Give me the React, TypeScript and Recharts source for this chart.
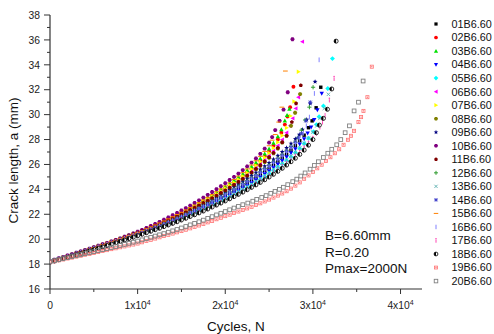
import React from 'react';
import { ScatterChart, Scatter, XAxis, YAxis } from 'recharts';

// ---------- data: cycle grid (N) and crack length a (mm) per specimen ----------
const GRID = [0,500,1000,1500,2000,2500,3000,3500,4000,4500,
  5000,5500,6000,6500,7000,7500,8000,8500,9000,9500,
  10000,10500,11000,11500,12000,12500,13000,13500,14000,14500,
  15000,15500,16000,16500,17000,17500,18000,18500,19000,19500,
  20000,20500,21000,21500,22000,22500,23000,23500,24000,24500,
  25000,25500,26000,26500,27000,27500,28000,28500,29000,29500,
  30000,30500,31000,31500,32000,32500,33000,33500,34000,34500];

const A01 = [18.2,18.3,18.41,18.51,18.62,18.72,18.83,18.93,19.04,19.14,
  19.25,19.36,19.47,19.58,19.7,19.81,19.93,20.04,20.16,20.28,
  20.4,20.52,20.65,20.77,20.9,21.03,21.17,21.31,21.45,21.6,
  21.75,21.9,22.06,22.22,22.38,22.55,22.72,22.89,23.07,23.25,
  23.44,23.63,23.83,24.03,24.24,24.46,24.68,24.91,25.15,25.4,
  25.65,25.92,26.2,26.5,26.8,27.14,27.5,27.91,28.35];
const T01 = [[29500,28.95],[29910,29.5],[30370,30.55],[30900,32.2]];

const A02 = [18.22,18.33,18.44,18.55,18.66,18.77,18.88,18.99,19.1,19.21,
  19.32,19.43,19.55,19.66,19.78,19.9,20.02,20.14,20.27,20.39,
  20.52,20.66,20.8,20.95,21.1,21.26,21.42,21.58,21.75,21.92,
  22.1,22.28,22.46,22.65,22.84,23.04,23.24,23.45,23.66,23.88,
  24.1,24.34,24.58,24.83,25.1,25.37,25.66,25.97,26.3,26.66,
  27.05,27.5,28.0];
const T02 = [[26400,28.55],[26800,29.2],[27100,29.85],[27400,30.6],[27780,32.24]];

const A03 = [18.18,18.29,18.41,18.52,18.64,18.75,18.87,18.98,19.1,19.21,
  19.33,19.45,19.57,19.69,19.81,19.93,20.06,20.19,20.32,20.45,
  20.58,20.72,20.86,21.01,21.16,21.32,21.48,21.65,21.82,22.0,
  22.18,22.36,22.55,22.74,22.94,23.14,23.35,23.56,23.78,24.0,
  24.23,24.47,24.72,24.98,25.25,25.53,25.83,26.15,26.48,26.85,
  27.25,27.72,28.25];
const T03 = [[26400,28.8],[26800,29.5],[27050,29.95],[27320,30.45]];

const A04 = [18.2,18.3,18.4,18.5,18.6,18.7,18.81,18.91,19.02,19.12,
  19.23,19.34,19.45,19.56,19.67,19.78,19.9,20.01,20.13,20.25,
  20.37,20.49,20.61,20.73,20.86,20.99,21.12,21.26,21.4,21.54,
  21.69,21.84,21.99,22.14,22.3,22.46,22.63,22.8,22.97,23.15,
  23.33,23.52,23.71,23.91,24.11,24.32,24.54,24.77,25.0,25.25,
  25.5,25.76,26.03,26.31,26.6,26.92,27.25,27.63,28.05];
const T04 = [[29400,28.5],[29800,29.0],[30150,29.6],[30510,30.37],[31010,31.7]];

const A05 = [18.15,18.25,18.35,18.45,18.56,18.66,18.77,18.87,18.98,19.09,
  19.2,19.31,19.42,19.53,19.64,19.75,19.87,19.98,20.1,20.21,
  20.33,20.45,20.57,20.69,20.82,20.95,21.08,21.21,21.35,21.49,
  21.63,21.77,21.92,22.07,22.22,22.38,22.54,22.7,22.87,23.04,
  23.21,23.39,23.57,23.76,23.95,24.15,24.36,24.58,24.8,25.03,
  25.27,25.52,25.77,26.04,26.32,26.62,26.94,27.29,27.68];
const T05 = [[29500,28.1],[30060,28.63],[30400,29.2],[30710,29.83],[31200,30.7],[31700,32.1],[32230,34.5]];

const A06 = [18.2,18.31,18.42,18.53,18.64,18.75,18.86,18.97,19.08,19.19,
  19.31,19.42,19.54,19.65,19.77,19.89,20.01,20.13,20.26,20.38,
  20.51,20.64,20.78,20.92,21.07,21.22,21.38,21.54,21.7,21.87,
  22.04,22.21,22.39,22.57,22.76,22.95,23.15,23.35,23.56,23.77,
  23.98,24.2,24.43,24.67,24.92,25.18,25.45,25.73,26.03,26.35,
  26.7,27.08,27.5,27.99,28.55];
const T06 = [[27400,29.1],[27700,29.7],[28050,30.5],[28350,31.4],[28800,35.86]];

const A07 = [18.2,18.31,18.42,18.53,18.64,18.75,18.86,18.97,19.09,19.2,
  19.32,19.43,19.55,19.67,19.79,19.91,20.03,20.15,20.28,20.41,
  20.54,20.67,20.81,20.95,21.1,21.25,21.41,21.57,21.74,21.91,
  22.08,22.26,22.44,22.63,22.82,23.02,23.22,23.43,23.64,23.86,
  24.08,24.31,24.55,24.8,25.06,25.33,25.61,25.91,26.22,26.56,
  26.92,27.33,27.78,28.33,28.95];
const T07 = [[27450,29.9],[27850,31.05],[28350,33.45]];

const A08 = [18.2,18.31,18.42,18.52,18.63,18.74,18.85,18.96,19.07,19.18,
  19.29,19.4,19.52,19.63,19.75,19.87,19.99,20.11,20.23,20.35,
  20.48,20.61,20.75,20.89,21.03,21.18,21.33,21.48,21.64,21.8,
  21.97,22.14,22.32,22.5,22.68,22.87,23.06,23.26,23.46,23.67,
  23.88,24.1,24.32,24.56,24.8,25.06,25.32,25.6,25.89,26.2,
  26.53,26.89,27.28,27.76,28.3];
const T08 = [[27500,29.1],[27970,30.15],[28540,31.65]];

const A09 = [18.2,18.31,18.42,18.53,18.64,18.75,18.86,18.97,19.08,19.19,
  19.3,19.41,19.52,19.63,19.75,19.86,19.98,20.09,20.2,20.32,
  20.45,20.58,20.71,20.84,20.98,21.12,21.27,21.42,21.57,21.73,
  21.89,22.05,22.22,22.39,22.57,22.75,22.94,23.13,23.33,23.53,
  23.74,23.95,24.17,24.39,24.62,24.86,25.1,25.35,25.6,25.86,
  26.13,26.41,26.7,27.01,27.33,27.68,28.05];
const T09 = [[28450,28.4],[28800,28.8],[29300,29.6],[29700,30.9],[30250,32.64]];

const A10 = [18.25,18.36,18.47,18.58,18.69,18.8,18.91,19.02,19.13,19.24,
  19.36,19.47,19.59,19.71,19.83,19.95,20.07,20.2,20.33,20.46,
  20.6,20.75,20.9,21.06,21.22,21.39,21.56,21.74,21.92,22.11,
  22.3,22.5,22.7,22.91,23.12,23.34,23.56,23.79,24.02,24.26,
  24.5,24.75,25.0,25.27,25.55,25.84,26.15,26.48,26.85,27.27,
  27.75];
const T10 = [[25350,28.2],[25700,28.76],[26200,29.5],[26650,30.4],[27130,31.8],[27670,36.05]];

const A11 = [18.2,18.31,18.42,18.53,18.64,18.75,18.86,18.97,19.08,19.19,
  19.31,19.42,19.54,19.65,19.77,19.89,20.01,20.13,20.26,20.38,
  20.51,20.64,20.78,20.92,21.06,21.21,21.36,21.52,21.68,21.84,
  22.01,22.18,22.36,22.54,22.72,22.91,23.1,23.3,23.5,23.71,
  23.92,24.14,24.37,24.61,24.85,25.11,25.37,25.65,25.94,26.25,
  26.58,26.93,27.32,27.78,28.3];
const T11 = [[27600,29.4],[28080,30.9],[28620,32.35]];

const A12 = [18.2,18.3,18.41,18.52,18.63,18.74,18.85,18.96,19.07,19.18,
  19.29,19.4,19.51,19.62,19.74,19.85,19.97,20.08,20.2,20.32,
  20.44,20.56,20.69,20.82,20.95,21.09,21.23,21.37,21.52,21.67,
  21.83,21.99,22.15,22.32,22.49,22.67,22.85,23.03,23.22,23.41,
  23.61,23.81,24.02,24.24,24.46,24.69,24.92,25.16,25.41,25.67,
  25.93,26.2,26.49,26.79,27.1,27.44,27.8];
const T12 = [[28300,28.15],[28700,28.75],[29110,29.57],[29600,30.6],[30020,32.2]];

const A13 = [18.18,18.28,18.38,18.48,18.59,18.69,18.8,18.9,19.01,19.11,
  19.22,19.33,19.44,19.55,19.66,19.77,19.89,20.0,20.12,20.23,
  20.35,20.47,20.59,20.71,20.84,20.97,21.1,21.23,21.37,21.51,
  21.65,21.79,21.94,22.09,22.25,22.41,22.57,22.73,22.9,23.07,
  23.25,23.43,23.61,23.8,24.0,24.2,24.41,24.63,24.85,25.08,
  25.32,25.56,25.82,26.09,26.37,26.67,26.98,27.33,27.7,28.12,
  28.6];
const T13 = [[30450,29.1],[30800,29.7],[31300,30.5],[31770,31.63]];

const A14 = [18.2,18.3,18.41,18.51,18.62,18.73,18.84,18.95,19.06,19.17,
  19.28,19.39,19.5,19.61,19.73,19.84,19.96,20.07,20.19,20.31,
  20.43,20.55,20.68,20.81,20.94,21.07,21.21,21.35,21.5,21.65,
  21.8,21.96,22.12,22.28,22.45,22.62,22.8,22.98,23.17,23.36,
  23.56,23.76,23.97,24.18,24.4,24.63,24.86,25.1,25.35,25.61,
  25.87,26.15,26.43,26.73,27.05,27.4,27.78];
const T14 = [[28350,28.15],[28700,28.5],[29200,29.5],[29700,31.0]];

const A15 = [18.22,18.33,18.44,18.55,18.66,18.77,18.88,18.99,19.1,19.21,
  19.33,19.44,19.56,19.68,19.8,19.92,20.04,20.16,20.29,20.42,
  20.55,20.69,20.84,20.99,21.14,21.3,21.46,21.63,21.8,21.98,
  22.16,22.35,22.54,22.74,22.94,23.15,23.36,23.58,23.81,24.04,
  24.28,24.53,24.79,25.06,25.34,25.64,25.95,26.29,26.65,27.05,
  27.5];
const T15 = [[25350,27.95],[25700,28.4],[26100,29.4],[26450,30.6],[26860,33.5]];

const A16 = [18.2,18.3,18.41,18.51,18.62,18.72,18.83,18.94,19.05,19.16,
  19.27,19.38,19.49,19.6,19.71,19.82,19.94,20.05,20.17,20.29,
  20.41,20.53,20.66,20.79,20.92,21.05,21.19,21.33,21.47,21.62,
  21.77,21.92,22.08,22.24,22.41,22.58,22.76,22.94,23.12,23.31,
  23.5,23.7,23.9,24.11,24.32,24.54,24.77,25.01,25.25,25.5,
  25.76,26.03,26.31,26.61,26.92,27.26,27.62];
const T16 = [[28450,28.0],[28900,28.5],[29250,29.1],[29600,29.8],[30170,31.7],[30710,34.4]];

const A17 = [18.15,18.25,18.35,18.45,18.55,18.65,18.76,18.86,18.97,19.07,
  19.18,19.29,19.4,19.51,19.62,19.73,19.84,19.95,20.07,20.18,
  20.3,20.42,20.54,20.66,20.78,20.9,21.03,21.16,21.29,21.42,
  21.56,21.7,21.84,21.99,22.14,22.29,22.45,22.61,22.77,22.94,
  23.11,23.28,23.46,23.64,23.83,24.02,24.22,24.43,24.64,24.86,
  25.08,25.32,25.56,25.82,26.08,26.37,26.66,26.98,27.32,27.7,
  28.1];
const T17 = [[30400,28.5],[30800,29.0],[31100,29.4],[31390,29.9],[31880,31.17],[32420,32.9]];

const A18 = [18.15,18.25,18.35,18.45,18.55,18.65,18.75,18.85,18.96,19.06,
  19.17,19.27,19.38,19.49,19.6,19.71,19.82,19.93,20.05,20.16,
  20.28,20.4,20.52,20.64,20.76,20.88,21.01,21.14,21.27,21.4,
  21.54,21.68,21.82,21.96,22.11,22.26,22.42,22.58,22.74,22.9,
  23.07,23.24,23.42,23.6,23.78,23.97,24.16,24.36,24.56,24.77,
  24.99,25.21,25.45,25.69,25.95,26.22,26.5,26.81,27.15,27.55,
  28.0];
const T18 = [[30400,28.55],[30740,29.16],[31200,29.7],[31660,30.43],[32150,32.06],[32650,35.9]];

const A19 = [18.15,18.22,18.3,18.37,18.45,18.52,18.6,18.67,18.75,18.82,
  18.9,18.97,19.05,19.12,19.2,19.27,19.35,19.42,19.5,19.57,
  19.65,19.75,19.85,19.95,20.05,20.15,20.25,20.35,20.45,20.55,
  20.65,20.76,20.87,20.98,21.1,21.22,21.35,21.47,21.6,21.72,
  21.85,21.97,22.1,22.22,22.35,22.47,22.6,22.74,22.88,23.03,
  23.18,23.34,23.5,23.67,23.85,24.06,24.3,24.56,24.85,25.12,
  25.4,25.69,25.98,26.28,26.58,26.9,27.22,27.58,27.98];
const T19 = [[34350,28.3],[34700,28.7],[35200,29.4],[35500,29.8],[35770,30.3],[36220,31.4],[36720,33.85]];

const A20 = [18.2,18.28,18.36,18.44,18.52,18.6,18.68,18.76,18.84,18.92,
  19.0,19.08,19.16,19.24,19.33,19.41,19.5,19.58,19.67,19.76,
  19.85,19.95,20.05,20.15,20.25,20.35,20.45,20.56,20.67,20.78,
  20.9,21.02,21.15,21.27,21.4,21.53,21.67,21.81,21.95,22.08,
  22.22,22.36,22.5,22.63,22.77];
const T20 = [[22570,22.9],[23140,23.05],[23590,23.2],[24160,23.35],[24660,23.5],[25190,23.68],[25680,23.84],
  [26180,24.0],[26630,24.17],[27130,24.38],[27700,24.62],[28160,24.82],[28620,25.07],[29110,25.32],
  [29680,25.62],[30170,25.92],[30630,26.22],[31200,26.56],[31700,26.9],[32150,27.22],[32720,27.58],
  [33180,28.0],[33680,28.55],[34170,29.1],[34700,30.3],[35200,31.0],[35730,32.7]];

const SERIES_NAMES = ['01B6.60','02B6.60','03B6.60','04B6.60','05B6.60','06B6.60','07B6.60','08B6.60','09B6.60','10B6.60','11B6.60','12B6.60','13B6.60','14B6.60','15B6.60','16B6.60','17B6.60','18B6.60','19B6.60','20B6.60'];
const SERIES_VALUES = [A01,A02,A03,A04,A05,A06,A07,A08,A09,A10,A11,A12,A13,A14,A15,A16,A17,A18,A19,A20];
const SERIES_TAILS = [T01,T02,T03,T04,T05,T06,T07,T08,T09,T10,T11,T12,T13,T14,T15,T16,T17,T18,T19,T20];
const SERIES_SYMBOLS = ['square','circle','up','down','diamond','left','right','hex','star','hex','pent','plus','cross','aster','dash','bar','excl','half','pinksq','open'];
const SERIES_COLORS = ['#000000','#FF0000','#00E000','#0000FF','#00FFFF','#FF00FF','#FFFF00','#808000','#000080','#800080','#800000','#2E9B2E','#5AAFAF','#3A3AC8','#FF8000','#8080FF','#FF44B4','#000000','#FF7070','#808080'];

const X_TICKS = [0,5000,10000,15000,20000,25000,30000,35000,40000];
const Y_TICKS = [16,17,18,19,20,21,22,23,24,25,26,27,28,29,30,31,32,33,34,35,36,37,38];
const X_DOMAIN = [0, 42450];
const Y_DOMAIN = [16, 38];
const NOTE_LINES = ['B=6.60mm','R=0.20','Pmax=2000N'];

const FONT = '"Liberation Sans", Arial, sans-serif';
const AX = '#333333';

function Glyph({ k, c, x, y, s = 1 }: { k: string; c: string; x: number; y: number; s?: number }) {
  const poly = (pts: number[][]) => pts.map(p => `${x + p[0] * s},${y + p[1] * s}`).join(' ');
  const ring = (n: number, r: number, rot: number) => {
    const out: number[][] = [];
    for (let i = 0; i < n; i++) {
      const t = rot + (i * 2 * Math.PI) / n;
      out.push([r * Math.cos(t), r * Math.sin(t)]);
    }
    return out;
  };
  const q = (v: number) => v * s;
  switch (k) {
    case 'square': return <rect x={x - q(2)} y={y - q(2)} width={q(4)} height={q(4)} fill={c} />;
    case 'circle': return <circle cx={x} cy={y} r={q(2.3)} fill={c} />;
    case 'up': return <polygon points={poly([[0, -2.7], [2.6, 2], [-2.6, 2]])} fill={c} />;
    case 'down': return <polygon points={poly([[0, 2.7], [2.6, -2], [-2.6, -2]])} fill={c} />;
    case 'diamond': return <polygon points={poly([[0, -2.9], [2.9, 0], [0, 2.9], [-2.9, 0]])} fill={c} />;
    case 'left': return <polygon points={poly([[-2.7, 0], [2, -2.6], [2, 2.6]])} fill={c} />;
    case 'right': return <polygon points={poly([[2.7, 0], [-2, -2.6], [-2, 2.6]])} fill={c} />;
    case 'hex': return <polygon points={poly(ring(6, 2.6, 0))} fill={c} />;
    case 'pent': return <polygon points={poly(ring(5, 2.5, -Math.PI / 2))} fill={c} />;
    case 'star': {
      const pts: number[][] = [];
      for (let i = 0; i < 10; i++) {
        const r = i % 2 === 0 ? 3 : 1.3;
        const t = -Math.PI / 2 + (i * Math.PI) / 5;
        pts.push([r * Math.cos(t), r * Math.sin(t)]);
      }
      return <polygon points={poly(pts)} fill={c} />;
    }
    case 'plus': return <path d={`M${x - q(2.5)},${y}H${x + q(2.5)}M${x},${y - q(2.5)}V${y + q(2.5)}`} stroke={c} strokeWidth={1} />;
    case 'cross': return <path d={`M${x - q(2)},${y - q(2)}L${x + q(2)},${y + q(2)}M${x + q(2)},${y - q(2)}L${x - q(2)},${y + q(2)}`} stroke={c} strokeWidth={0.9} />;
    case 'aster': return <path d={`M${x - q(2.3)},${y}H${x + q(2.3)}M${x},${y - q(2.3)}V${y + q(2.3)}M${x - q(1.8)},${y - q(1.8)}L${x + q(1.8)},${y + q(1.8)}M${x + q(1.8)},${y - q(1.8)}L${x - q(1.8)},${y + q(1.8)}`} stroke={c} strokeWidth={0.9} />;
    case 'dash': return <path d={`M${x - q(2.8)},${y}H${x + q(2.8)}`} stroke={c} strokeWidth={1} />;
    case 'bar': return <path d={`M${x},${y - q(2.8)}V${y + q(2.8)}`} stroke={c} strokeWidth={1} />;
    case 'excl': return <g><path d={`M${x},${y - q(1)}V${y + q(2.8)}`} stroke={c} strokeWidth={1} /><circle cx={x} cy={y - q(2.2)} r={0.8} fill={c} /></g>;
    case 'half': return <g><circle cx={x} cy={y} r={q(2.4)} fill="#fff" stroke={c} strokeWidth={0.8} /><path d={`M${x},${y - q(2.4)}A${q(2.4)},${q(2.4)} 0 0 0 ${x},${y + q(2.4)}Z`} fill={c} /></g>;
    case 'pinksq': return <g><rect x={x - q(1.8)} y={y - q(1.8)} width={q(3.6)} height={q(3.6)} fill="none" stroke={c} strokeWidth={0.8} /><rect x={x - 0.6} y={y - 0.6} width={1.2} height={1.2} fill={c} /></g>;
    case 'open': return <rect x={x - q(2.2)} y={y - q(2.2)} width={q(4.4)} height={q(4.4)} fill="none" stroke={c} strokeWidth={0.9} />;
    default: return <circle cx={x} cy={y} r={q(2)} fill={c} />;
  }
}

const BottomTick = (p: any) => {
  const { x, y, payload } = p;
  const v = payload.value;
  const major = v % 10000 === 0;
  return (
    <g>
      <line x1={x} y1={y} x2={x} y2={y + (major ? 5 : 3)} stroke={AX} strokeWidth={1} />
      {major && (
        <text x={x} y={y + 20} textAnchor="middle" fontSize={10.3} fill="#222" fontFamily={FONT}>
          {v === 0 ? '0' : (<><tspan>{`${v / 10000}x10`}</tspan><tspan dy={-4} fontSize={7}>4</tspan></>)}
        </text>
      )}
    </g>
  );
};

const TopTick = (p: any) => {
  const { x, y, payload } = p;
  const v = payload.value;
  if (v === 0) return <g />;
  const major = v % 10000 === 0;
  return <line x1={x} y1={y} x2={x} y2={y + (major ? 5 : 3.5)} stroke={AX} strokeWidth={1} />;
};

const LeftTick = (p: any) => {
  const { x, y, payload } = p;
  const v = payload.value;
  const major = v % 2 === 0;
  return (
    <g>
      <line x1={x - (major ? 6 : 3)} y1={y} x2={x} y2={y} stroke={AX} strokeWidth={1} />
      {major && (
        <text x={x - 10} y={y} dy="0.36em" textAnchor="end" fontSize={10.3} fill="#222" fontFamily={FONT}>{v}</text>
      )}
    </g>
  );
};

const RightTick = (p: any) => {
  const { x, y, payload } = p;
  const v = payload.value;
  if (v === 16 || v === 38) return <g />;
  const major = v % 2 === 0;
  return <line x1={x - (major ? 4.5 : 3)} y1={y} x2={x} y2={y} stroke={AX} strokeWidth={1} />;
};

export default function App() {
  const series = SERIES_NAMES.map((name, i) => ({
    name,
    kind: SERIES_SYMBOLS[i],
    color: SERIES_COLORS[i],
    data: SERIES_VALUES[i].map((a, j) => ({ c: GRID[j], a }))
      .concat(SERIES_TAILS[i].map(([c, a]) => ({ c, a }))),
  }));
  return (
    <div style={{ position: 'relative', width: 494, height: 334, fontFamily: FONT, background: '#fff' }}>
      <style>{'body{margin:0;}'}</style>
      <ScatterChart width={494} height={334} margin={{ top: 15, right: 72, bottom: 15, left: 0 }}>
        <XAxis xAxisId="b" type="number" dataKey="c" domain={X_DOMAIN} ticks={X_TICKS} interval={0}
          allowDataOverflow height={30} tickSize={0} tickMargin={0} tickLine={false}
          axisLine={{ stroke: AX, strokeWidth: 1.2 }} tick={<BottomTick />} />
        <XAxis xAxisId="t" orientation="top" type="number" domain={X_DOMAIN} ticks={X_TICKS} interval={0}
          allowDataOverflow height={0} tickSize={0} tickMargin={0} tickLine={false}
          axisLine={{ stroke: AX, strokeWidth: 1.2 }} tick={<TopTick />} />
        <YAxis yAxisId="l" type="number" dataKey="a" domain={Y_DOMAIN} ticks={Y_TICKS} interval={0}
          allowDataOverflow width={50} tickSize={0} tickMargin={0} tickLine={false}
          axisLine={{ stroke: AX, strokeWidth: 1.2 }} tick={<LeftTick />} />
        <YAxis yAxisId="r" orientation="right" type="number" domain={Y_DOMAIN} ticks={Y_TICKS} interval={0}
          allowDataOverflow width={0} tickSize={0} tickMargin={0} tickLine={false}
          axisLine={{ stroke: AX, strokeWidth: 1.2 }} tick={<RightTick />} />
        {series.map(s => (
          <Scatter key={s.name} name={s.name} xAxisId="b" yAxisId="l" data={s.data} isAnimationActive={false}
            shape={(props: any) => <Glyph k={s.kind} c={s.color} x={props.cx} y={props.cy} s={0.85} />} />
        ))}
      </ScatterChart>
      <svg width={494} height={334} style={{ position: 'absolute', left: 0, top: 0, pointerEvents: 'none' }}>
        <text transform="translate(17.5,160.5) rotate(-90)" textAnchor="middle" fontSize={13.5} fill="#111" fontFamily={FONT}>
          Crack length, a (mm)
        </text>
        <text x={236} y={331} textAnchor="middle" fontSize={13.5} fill="#111" fontFamily={FONT}>Cycles, N</text>
        {NOTE_LINES.map((t, i) => (
          <text key={t} x={325} y={240 + i * 16.6} fontSize={13.5} fill="#111" fontFamily={FONT}>{t}</text>
        ))}
        {series.map((s, i) => {
          const cy = 24 + i * 13.53;
          return (
            <g key={s.name}>
              <Glyph k={s.kind} c={s.color} x={436} y={cy} s={0.8} />
              <text x={451.5} y={cy + 3.9} fontSize={10.8} fill="#111" fontFamily={FONT}>{s.name}</text>
            </g>
          );
        })}
      </svg>
    </div>
  );
}
